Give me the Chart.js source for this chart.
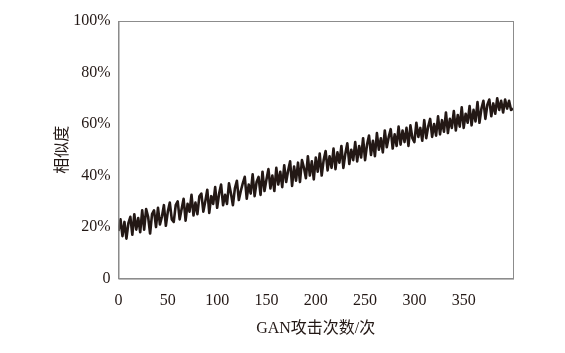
<!doctype html>
<html lang="zh">
  <head>
    <title>相似度</title>
    <meta charset="utf-8" />
    <style>
      html, body { margin: 0; padding: 0; background: #fff; }
      .chart-container { width: 565px; height: 353px; }
    </style>
  </head>
  <body>
    <div class="chart-container">
      <canvas id="similarity"></canvas>
    </div>

    <script src="https://cdn.jsdelivr.net/npm/chart.js@4.4.1/dist/chart.umd.min.js"></script>
    <script>
      // GAN attack count, every second attack
      const attacks = [];
      for (let i = 0; i <= 400; i += 2) attacks.push(i);

      // similarity (%)
      const similarity = [
        18.5, 23, 16.5, 22, 15.5, 21.5, 24, 17, 25, 19,
        23.5, 18, 26.5, 19, 27, 24, 17.5, 25, 26.5, 20,
        27.5, 21, 24, 28.5, 20.5, 26, 29.5, 23, 22, 28.5,
        30, 23, 27, 31, 22.5, 29, 26, 32.5, 24.5, 29.5,
        25, 32, 33, 26, 30, 34.5, 25.5, 32, 29, 35.5,
        27.5, 33, 36.5, 28.5, 32.5, 29, 37, 33, 28.5, 35,
        38, 30.5, 34, 37, 39.5, 31, 36.5, 33, 40.5, 32,
        37.5, 39.5, 32.5, 41.5, 34, 38.5, 42.5, 35, 40, 34,
        43, 36.5, 41.5, 35.5, 44, 37.5, 42, 45.5, 36, 43.5,
        38, 45, 37.5, 46, 43, 39, 47.5, 40, 45.5, 38.5,
        47, 41.5, 48.5, 40, 46, 49.5, 42, 47.5, 43, 50.5,
        42.5, 49, 45, 51.5, 43, 48.5, 52.5, 44.5, 50, 46,
        53, 45.5, 51.5, 47, 54.5, 46, 52, 55.5, 48, 53.5,
        47.5, 56.5, 50, 54.5, 49, 57.5, 51, 55, 58, 50.5,
        56, 51.5, 59, 52, 57.5, 53, 58.5, 51.5, 59.5, 54.5,
        53, 60.5, 55, 58.5, 53.5, 61.5, 54.5, 59, 62, 55,
        60, 55.5, 63, 56, 61.5, 57, 64.5, 56.5, 62, 58.5,
        65, 57.5, 63.5, 59, 66.5, 58.5, 64, 60.5, 67, 59.5,
        65.5, 61, 68.5, 60.5, 66, 69, 62, 67.5, 69.5, 63,
        68, 64, 70, 65.5, 69, 64.5, 69.5, 66, 69, 65.5,
        66
      ];

      const xTicks = [0, 50, 100, 150, 200, 250, 300, 350];
      const yTicks = [0, 20, 40, 60, 80, 100];

      const tickFont = { family: "'Liberation Serif', 'Noto Sans CJK SC', serif", size: 16 };
      const titleFont = { family: "'Liberation Serif', 'Noto Sans CJK SC', serif", size: 16 };

      // grey frame round the plot area
      const frame = {
        id: "frame",
        afterDraw(chart) {
          const { ctx, chartArea: a } = chart;
          ctx.save();
          ctx.strokeStyle = "#8c8c8c";
          ctx.lineWidth = 1;
          ctx.strokeRect(a.left + 0.5, a.top + 0.5, a.right - a.left, a.bottom - a.top);
          ctx.restore();
        },
      };

      const ctx = document.getElementById("similarity");
      new Chart(ctx, {
        type: "line",
        data: {
          datasets: [
            {
              data: attacks.map((x, i) => ({ x: x, y: similarity[i] })),
              borderColor: "#231815",
              borderWidth: 2.6,
              borderJoinStyle: "round",
              pointRadius: 0,
              tension: 0,
            },
          ],
        },
        options: {
          responsive: true,
          maintainAspectRatio: false,
          animation: false,
          layout: { padding: { left: 49, right: 52, top: 21, bottom: 11 } },
          plugins: { legend: { display: false }, tooltip: { enabled: false } },
          scales: {
            x: {
              type: "linear",
              min: 0,
              max: 400,
              grid: { display: false, drawTicks: false },
              border: { display: true, color: "#8c8c8c" },
              afterBuildTicks: (axis) => { axis.ticks = xTicks.map((v) => ({ value: v })); },
              ticks: { color: "#231815", font: tickFont, padding: 13, maxRotation: 0 },
              title: { display: true, text: "GAN攻击次数/次", color: "#231815", font: titleFont, padding: { top: -5 } },
            },
            y: {
              min: 0,
              max: 100,
              grid: { display: false, drawTicks: false },
              border: { display: true, color: "#8c8c8c" },
              afterBuildTicks: (axis) => { axis.ticks = yTicks.map((v) => ({ value: v })); },
              ticks: {
                color: "#231815",
                font: tickFont,
                padding: 8,
                callback: (v) => (v === 0 ? "0" : v + "%"),
              },
              title: { display: true, text: "相似度", color: "#231815", font: titleFont, padding: { bottom: -7 } },
            },
          },
        },
        plugins: [frame],
      });
    </script>
  </body>
</html>
